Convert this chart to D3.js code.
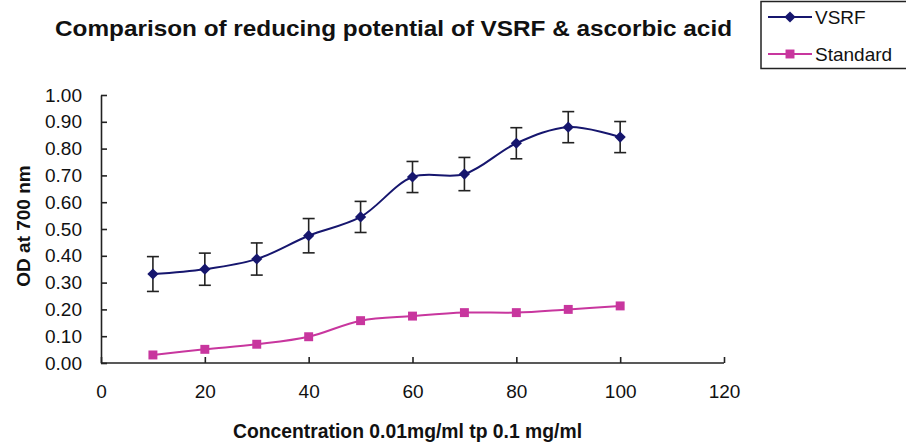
<!DOCTYPE html>
<html>
<head>
<meta charset="utf-8">
<script src="https://cdn.jsdelivr.net/npm/d3@7"></script>
<style>
    body { margin: 0; background: #fff; }
    svg { display: block; font-family: "Liberation Sans", Arial, sans-serif; }
    .axis path, .axis line { stroke: #222; stroke-width: 1.6; }
    .axis text { font-size: 19px; fill: #111; }
    .err { stroke: #222; stroke-width: 1.6; }
</style>
</head>
<body>
<svg id="chart" width="906" height="442"></svg>
<script>
// concentrations (x) and readings
let conc = [10, 20, 30, 40, 50, 60, 70, 80, 90, 100];
let vsrf = [0.332, 0.350, 0.388, 0.475, 0.545, 0.694, 0.705, 0.820, 0.880, 0.843];
let vsrf_err = [0.065, 0.060, 0.060, 0.064, 0.058, 0.058, 0.062, 0.058, 0.058, 0.058];
let standard = [0.030, 0.051, 0.070, 0.098, 0.158, 0.175, 0.188, 0.188, 0.200, 0.213];

let x_ticks = [0, 20, 40, 60, 80, 100, 120];
let y_ticks = [0, 0.1, 0.2, 0.3, 0.4, 0.5, 0.6, 0.7, 0.8, 0.9, 1.0];

let series_names = ["VSRF", "Standard"];
let series_colors = ["#16166e", "#c8369e"];

let svg = d3.select("#chart");

let xScale = d3.scaleLinear()
    .domain([0, 120])
    .range([101, 724]);

let yScale = d3.scaleLinear()
    .domain([0, 1])
    .range([363, 95]);

let line = d3.line()
    .x(d => xScale(d[0]))
    .y(d => yScale(d[1]))
    .curve(d3.curveCatmullRom.alpha(0.5));

// axes, ticks pointing inward
svg.append("g")
    .attr("class", "axis")
    .attr("transform", "translate(0," + yScale(0) + ")")
    .call(d3.axisBottom(xScale).tickValues(x_ticks).tickSize(-6).tickPadding(22).tickSizeOuter(0))
    .call(g => g.select(".domain").attr("d", "M" + xScale(0) + ",0H" + xScale(120)));

svg.append("g")
    .attr("class", "axis")
    .attr("transform", "translate(" + xScale(0) + ",0)")
    .call(d3.axisLeft(yScale).tickValues(y_ticks).tickFormat(d3.format(".2f")).tickSize(-6).tickPadding(19).tickSizeOuter(0));

// title and axis labels
svg.append("text")
    .attr("x", 55)
    .attr("y", 36)
    .attr("textLength", 677)
    .attr("lengthAdjust", "spacingAndGlyphs")
    .style("font-size", "22px")
    .style("font-weight", "bold")
    .style("fill", "#111")
    .text("Comparison of reducing potential of VSRF & ascorbic acid");

svg.append("text")
    .attr("x", 233)
    .attr("y", 438)
    .attr("textLength", 349)
    .attr("lengthAdjust", "spacingAndGlyphs")
    .style("font-size", "20px")
    .style("font-weight", "bold")
    .style("fill", "#111")
    .text("Concentration 0.01mg/ml tp 0.1 mg/ml");

svg.append("text")
    .attr("transform", "translate(30,226) rotate(-90)")
    .attr("text-anchor", "middle")
    .style("font-size", "19px")
    .style("font-weight", "bold")
    .style("fill", "#111")
    .text("OD at 700 nm");

// series lines
let vsrf_pts = conc.map((c, i) => [c, vsrf[i]]);
let std_pts = conc.map((c, i) => [c, standard[i]]);

svg.append("path")
    .attr("d", line(std_pts))
    .attr("fill", "none")
    .attr("stroke", series_colors[1])
    .attr("stroke-width", 2);

svg.append("path")
    .attr("d", line(vsrf_pts))
    .attr("fill", "none")
    .attr("stroke", series_colors[0])
    .attr("stroke-width", 2);

// error bars
let cap = 6;
let err = svg.append("g")
    .selectAll("g")
    .data(vsrf_pts)
    .enter()
    .append("g");

err.append("line")
    .attr("class", "err")
    .attr("x1", d => xScale(d[0]))
    .attr("x2", d => xScale(d[0]))
    .attr("y1", (d, i) => yScale(d[1] + vsrf_err[i]))
    .attr("y2", (d, i) => yScale(d[1] - vsrf_err[i]));

err.append("line")
    .attr("class", "err")
    .attr("x1", d => xScale(d[0]) - cap)
    .attr("x2", d => xScale(d[0]) + cap)
    .attr("y1", (d, i) => yScale(d[1] + vsrf_err[i]))
    .attr("y2", (d, i) => yScale(d[1] + vsrf_err[i]));

err.append("line")
    .attr("class", "err")
    .attr("x1", d => xScale(d[0]) - cap)
    .attr("x2", d => xScale(d[0]) + cap)
    .attr("y1", (d, i) => yScale(d[1] - vsrf_err[i]))
    .attr("y2", (d, i) => yScale(d[1] - vsrf_err[i]));

// markers
let diamond = d3.symbol().type(d3.symbolDiamond2).size(80);
let square = d3.symbol().type(d3.symbolSquare).size(80);

svg.append("g")
    .selectAll("path")
    .data(vsrf_pts)
    .enter()
    .append("path")
    .attr("d", diamond)
    .attr("transform", d => "translate(" + xScale(d[0]) + "," + yScale(d[1]) + ")")
    .attr("fill", series_colors[0]);

svg.append("g")
    .selectAll("path")
    .data(std_pts)
    .enter()
    .append("path")
    .attr("d", square)
    .attr("transform", d => "translate(" + xScale(d[0]) + "," + yScale(d[1]) + ")")
    .attr("fill", series_colors[1]);

// legend
let legend = svg.append("g");

legend.append("rect")
    .attr("x", 761)
    .attr("y", 1.5)
    .attr("width", 150)
    .attr("height", 67)
    .attr("fill", "#fff")
    .attr("stroke", "#222")
    .attr("stroke-width", 1.5);

let items = legend.selectAll(".item")
    .data(series_names)
    .enter()
    .append("g")
    .attr("class", "item")
    .attr("transform", (d, i) => "translate(0," + (17 + i * 37) + ")");

items.append("line")
    .attr("x1", 768)
    .attr("x2", 812)
    .attr("stroke", (d, i) => series_colors[i])
    .attr("stroke-width", 2);

items.append("path")
    .attr("d", (d, i) => i ? square() : diamond())
    .attr("transform", "translate(790,0)")
    .attr("fill", (d, i) => series_colors[i]);

items.append("text")
    .attr("x", 815)
    .attr("dy", "0.35em")
    .style("font-size", "19px")
    .style("fill", "#111")
    .text(d => d);
</script>
</body>
</html>
